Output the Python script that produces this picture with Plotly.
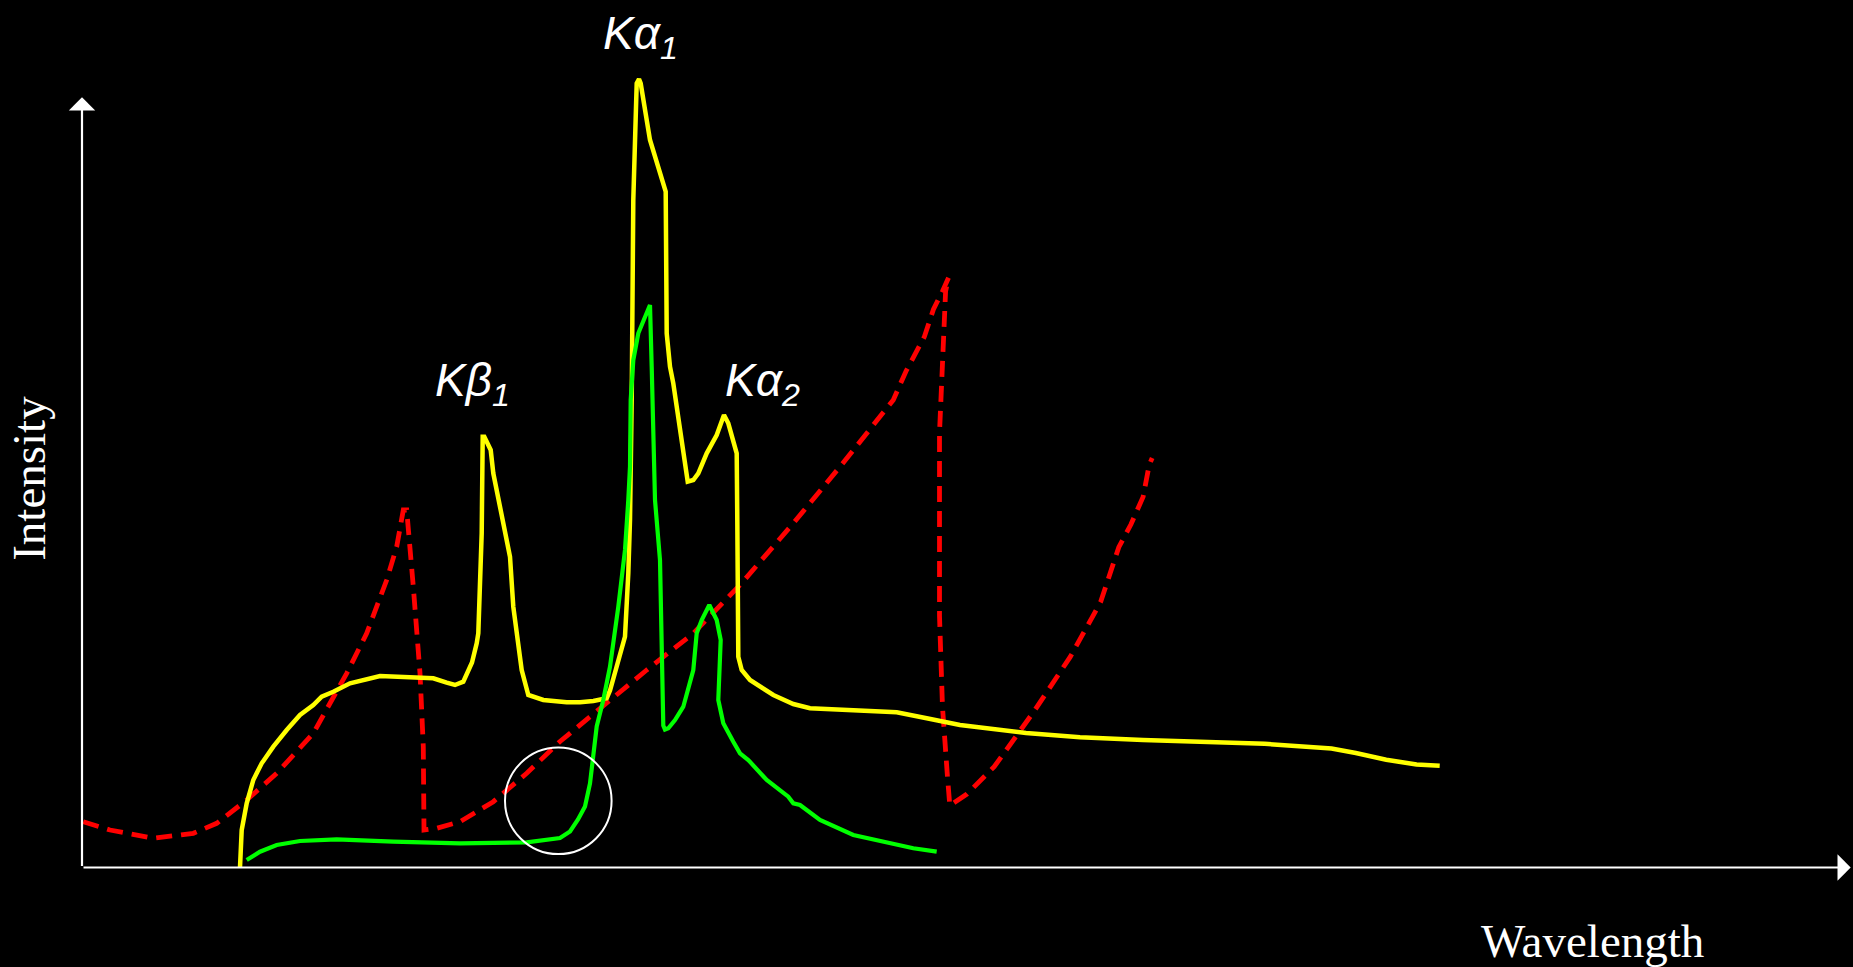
import plotly.graph_objects as go

# ---------------- data (arbitrary units: wavelength, intensity) ----------------
# Yellow: continuous spectrum with characteristic lines
cont_x = [158, 159.7, 164.7, 171.3, 179.7, 191.3, 204.7, 218, 231.3, 239.7, 251.3, 268, 298,
          351.3, 364.7, 373, 381.3, 390, 394.7, 396.3, 399.7, 400.7, 402.3, 408.7, 411.3, 424.7,
          428, 431.3, 439.7, 446.3, 461.3, 484.7, 498, 511.3, 524.7, 528, 536.3, 543, 546.3, 548,
          549.7, 551.3, 554.7, 557, 558.7, 564.7, 568, 583.7, 584.7, 588, 591.3, 605.7, 611.3,
          616.3, 624.7, 634.7, 642, 646.3, 654.7, 655.3, 656.3, 659.7, 668, 691.3, 711.3, 728,
          814.7, 844.7, 878, 944, 998, 1061, 1182.7, 1249.5, 1273.8, 1304.2, 1334.6, 1357.7]
cont_y = [0, 37.5, 64.2, 87.5, 104.2, 120.8, 137.5, 152.5, 162.5, 170.8, 175.8, 184.2, 191.5,
          189.2, 184.8, 182.5, 185.8, 205, 224.2, 234.2, 334.2, 430.8, 430.8, 417.5, 394.2, 330.8,
          310.8, 260.8, 197.5, 172.5, 167.5, 165.2, 165.2, 166.5, 169.2, 177, 205, 230.8, 294.2, 347.5,
          467.5, 667.5, 784.2, 788.5, 784.2, 750.8, 727.5, 675.8, 534.2, 500.8, 484.2, 385.8, 387.5,
          394.2, 414.2, 432.5, 452.5, 444.2, 414.2, 347.5, 210.8, 197.5, 187.5, 172.5, 163.5, 159.2,
          155.2, 149.2, 142.5, 134.5, 130.2, 127.5, 123.7, 119, 114.5, 107.7, 103.1, 101.7]

# Green: filtered spectrum
filt_x = [164.7, 178, 194.7, 218, 254.7, 311.3, 378, 444.7, 478, 488, 496, 503, 508, 511.3,
          514.7, 521.3, 528, 536.3, 543, 546.3, 548, 548.7, 551.3, 556.3, 568, 569.7, 571.3, 573,
          578, 580.5, 581.3, 583, 586.3, 593, 601.3, 611.3, 614.7, 619.7, 627.3, 634.7, 638.7,
          636.3, 641.3, 651.3, 658, 666.3, 684.7, 706.3, 711.3, 718, 738, 771.3, 818, 831.3, 854.7]
filt_y = [7.5, 15.8, 22.5, 26.5, 28.2, 25.8, 24.2, 25.2, 29.5, 36, 48, 61, 84, 114,
          141, 167.5, 200.8, 260.8, 317.5, 367.5, 400.8, 467.5, 507.5, 534.2, 562.5, 500.8, 434.2, 367.5,
          307.5, 200, 142, 138, 139.2, 147.5, 160.8, 197.5, 234.2, 247.5, 262.5, 247.5, 227.5,
          167.5, 144.2, 125.8, 114.2, 107.5, 87.5, 70.8, 64.2, 62.5, 47.5, 32.5, 22.5, 19.2, 15.8]

# Red dashed: absorption of the filter
abs_x = [1.3, 28, 71.3, 111.3, 134.7, 164.7, 194.7, 231.3, 264.7, 284.7, 304.7, 314.7, 321.3,
         324.7, 331.3, 338, 341.3, 342, 354.7, 378, 411.3, 444.7, 478, 498, 518, 564.7, 611.3,
         658, 711.3, 758, 811.3, 824, 842.3, 851.4, 860.5, 866.6, 863.6, 857.5, 857.5, 860.5,
         865.4, 867.8, 884.9, 912.2, 951.7, 988.2, 1018.6, 1036.8, 1049, 1061.1, 1067.2, 1070.2]
abs_y = [45.8, 37.5, 29.2, 34.2, 44.2, 67.5, 94.2, 134.2, 194.2, 234.2, 287.5, 320.8, 357.5,
         357.5, 280.8, 194.2, 120.8, 37.5, 39.2, 45.8, 65.8, 94.2, 126, 142.5, 159.2, 197.5, 234.2,
         282.5, 344.2, 400.8, 467.5, 496.3, 530.6, 558.1, 576.3, 590, 576.3, 434.6, 251.7, 160.3,
         91.7, 62, 73.4, 100.8, 155.7, 210.6, 265.4, 320.3, 343.2, 370.6, 402.6, 409.5]

# Peak labels
peak_labels = ["<i>K\u03b2<sub>1</sub></i>", "<i>K\u03b1<sub>1</sub></i>", "<i>K\u03b1<sub>2</sub></i>"]
peak_label_x = [390.5, 558.5, 680]
peak_label_y = [484, 830.8, 484]

# Axis titles
x_title = "Wavelength"
y_title = "Intensity"

# Highlight circle (center, radius)
circle_cx, circle_cy, circle_r = 476.3, 66.7, 53.3

# ---------------- figure ----------------
fig = go.Figure()

fig.add_trace(go.Scatter(x=abs_x, y=abs_y, mode="lines",
                         line=dict(color="#ff0000", width=4.8, dash="16px,9px"),
                         hoverinfo="skip", showlegend=False))
fig.add_trace(go.Scatter(x=cont_x, y=cont_y, mode="lines",
                         line=dict(color="#ffff00", width=4.5),
                         hoverinfo="skip", showlegend=False))
fig.add_trace(go.Scatter(x=filt_x, y=filt_y, mode="lines",
                         line=dict(color="#00ff00", width=4.2),
                         hoverinfo="skip", showlegend=False))

# axes as arrows
fig.add_annotation(x=1768.7, y=0, ax=0, ay=0, xref="x", yref="y", axref="x", ayref="y",
                   text="", showarrow=True, arrowhead=1, arrowsize=2.0, arrowwidth=2.2,
                   arrowcolor="white", standoff=0)
fig.add_annotation(x=0, y=770.2, ax=0, ay=0, xref="x", yref="y", axref="x", ayref="y",
                   text="", showarrow=True, arrowhead=1, arrowsize=2.0, arrowwidth=2.2,
                   arrowcolor="white", standoff=0)

for t, x, y in zip(peak_labels, peak_label_x, peak_label_y):
    fig.add_annotation(x=x, y=y, xref="x", yref="y", text=t, showarrow=False,
                       xanchor="center", yanchor="middle",
                       font=dict(family="Liberation Sans, Arial, sans-serif", size=46, color="white"))

fig.add_annotation(x=1510.5, y=-73, xref="x", yref="y", text=x_title, showarrow=False,
                   xanchor="center", yanchor="middle",
                   font=dict(family="Liberation Serif, Times New Roman, serif", size=47, color="white"))
fig.add_annotation(x=-53.7, y=389, xref="x", yref="y", text=y_title, showarrow=False,
                   textangle=-90, xanchor="center", yanchor="middle",
                   font=dict(family="Liberation Serif, Times New Roman, serif", size=47, color="white"))

fig.add_shape(type="circle", xref="x", yref="y",
              x0=circle_cx - circle_r, x1=circle_cx + circle_r,
              y0=circle_cy - circle_r, y1=circle_cy + circle_r,
              line=dict(color="white", width=2))

fig.update_layout(
    width=1853, height=967,
    margin=dict(l=0, r=0, t=0, b=0),
    paper_bgcolor="black", plot_bgcolor="black",
    xaxis=dict(range=[-82, 1771], visible=False, fixedrange=True),
    yaxis=dict(range=[-99.5, 867.5], visible=False, fixedrange=True),
    showlegend=False,
)

fig.write_html("out.html", config={"displayModeBar": False})

with open("out.html", "r", encoding="utf-8") as f:
    html = f.read()
html = html.replace("<head>", "<head><style>html,body{margin:0;padding:0;overflow:hidden;background:#000;}</style>", 1)
with open("out.html", "w", encoding="utf-8") as f:
    f.write(html)
